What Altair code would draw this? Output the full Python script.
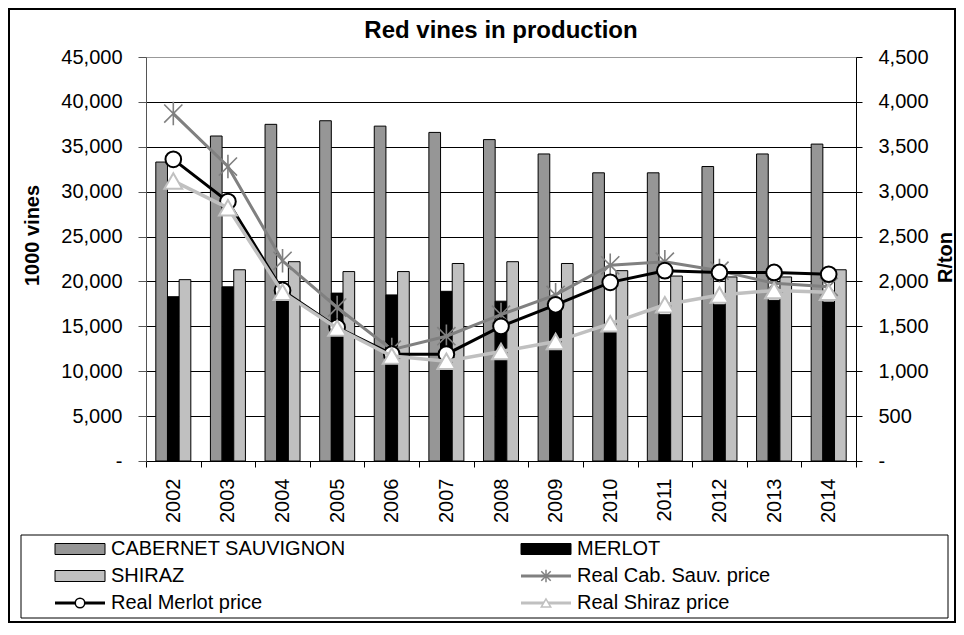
import altair as alt
import pandas as pd

FONT = "Liberation Sans"

years = ["2002", "2003", "2004", "2005", "2006", "2007", "2008",
         "2009", "2010", "2011", "2012", "2013", "2014"]

bar_series = ["CABERNET SAUVIGNON", "MERLOT", "SHIRAZ"]
price_series = ["Real Cab. Sauv. price", "Real Merlot price", "Real Shiraz price"]

cab_vines = [33300, 36200, 37500, 37900, 37300, 36600, 35800, 34200, 32100, 32100, 32800, 34200, 35300]
merlot_vines = [18300, 19400, 18000, 18700, 18500, 18900, 17800, 17000, 14500, 16300, 17400, 17900, 17700]
shiraz_vines = [20200, 21300, 22200, 21100, 21100, 22000, 22200, 22000, 21200, 20600, 20500, 20500, 21300]

cab_price = [3870, 3280, 2230, 1710, 1240, 1390, 1630, 1850, 2180, 2220, 2120, 1980, 1940]
merlot_price = [3360, 2890, 1900, 1490, 1190, 1190, 1500, 1740, 1990, 2120, 2100, 2100, 2080]
shiraz_price = [3120, 2820, 1880, 1480, 1170, 1110, 1220, 1330, 1530, 1740, 1850, 1900, 1880]

left_ticks = list(range(0, 45001, 5000))
right_ticks = list(range(0, 4501, 500))

chart_title = "Red vines in production"
left_title = "1000 vines"
right_title = "R/ton"

legend_labels = ["CABERNET SAUVIGNON", "MERLOT", "SHIRAZ",
                 "Real Cab. Sauv. price", "Real Merlot price", "Real Shiraz price"]
legend_cols = [0, 1, 0, 1, 0, 1]
legend_rows = [0, 0, 1, 1, 2, 2]
legend_kinds = ["bar", "bar", "bar", "line", "line", "line"]

bar_colors = ["#969696", "#000000", "#C0C0C0"]
price_colors = ["#808080", "#000000", "#C0C0C0"]

STAR = "M-1,-1L1,1M1,-1L-1,1M0,-1.3L0,1.3"
RECT = "M-1,-0.22H1V0.22H-1Z"
HLINE = "M-1,0H1"

bars_df = pd.DataFrame({
    "year": years * 3,
    "series": [s for s in bar_series for _ in years],
    "vines": cab_vines + merlot_vines + shiraz_vines,
})
price_df = pd.DataFrame({
    "year": years * 3,
    "series": [s for s in price_series for _ in years],
    "price": cab_price + merlot_price + shiraz_price,
})
legend_df = pd.DataFrame({
    "label": legend_labels, "col": legend_cols,
    "row": legend_rows, "kind": legend_kinds,
})

label_expr = "datum.value == 0 ? '-' : format(datum.value, ',')"

x_enc = alt.X(
    "year:O", sort=years,
    scale=alt.Scale(type="band", paddingInner=0, paddingOuter=0),
    axis=alt.Axis(title=None, labelAngle=-90, tickBand="extent", tickSize=6,
                  tickColor="black", domainColor="black", labelPadding=11,
                  grid=False),
)

bars = alt.Chart(bars_df).mark_bar(stroke="black", strokeWidth=1).encode(
    x=x_enc,
    xOffset=alt.XOffset("series:N", sort=bar_series,
                        scale=alt.Scale(paddingOuter=0.84, paddingInner=0)),
    y=alt.Y("vines:Q",
            scale=alt.Scale(domain=[0, 45000], nice=False),
            axis=alt.Axis(title=left_title, values=left_ticks, labelExpr=label_expr,
                          grid=True,
                          gridColor=alt.condition("datum.value >= 45000",
                                                  alt.value("#999999"), alt.value("#000000")),
                          tickSize=8, tickColor="#555555", domainColor="#555555",
                          labelPadding=16, titleX=-114, titleY=178,
                          titleBaseline="middle")),
    fill=alt.Fill("series:N", sort=bar_series,
                  scale=alt.Scale(domain=bar_series, range=bar_colors), legend=None),
)

price_y = alt.Y(
    "price:Q",
    scale=alt.Scale(domain=[0, 4500], nice=False),
    axis=alt.Axis(orient="right", title=right_title, values=right_ticks, labelExpr=label_expr,
                  grid=False, tickSize=6, tickColor="black", domainColor="black",
                  labelPadding=16, titleX=89, titleY=200, titleAngle=270,
                  titleBaseline="middle"),
)


def price_layers(name, color, width, point_mark):
    base = alt.Chart(price_df).transform_filter(alt.datum.series == name)
    line = base.mark_line(color=color, strokeWidth=width).encode(x=x_enc, y=price_y)
    pts = base.mark_point(**point_mark).encode(x=x_enc, y=price_y)
    return [line, pts]


prices = alt.layer(
    *price_layers(price_series[0], price_colors[0], 3,
                  dict(shape=STAR, size=330, filled=False, stroke=price_colors[0],
                       strokeWidth=1.6, opacity=1)),
    *price_layers(price_series[1], price_colors[1], 3,
                  dict(shape="circle", size=246, filled=True, fill="white",
                       stroke="black", strokeWidth=2, opacity=1)),
    *price_layers(price_series[2], price_colors[2], 3.5,
                  dict(shape="triangle-up", size=320, filled=True, fill="white",
                       stroke="#C0C0C0", strokeWidth=2, opacity=1)),
)

main = alt.layer(bars, prices).resolve_scale(y="independent")

leg_x = alt.X("col:Q", scale=alt.Scale(domain=[0, 1], range=[-66, 400]), axis=None)
leg_y = alt.Y("row:Q", scale=alt.Scale(domain=[0, 2], range=[492, 546]), axis=None)
leg_base = alt.Chart(legend_df)

leg_bars = leg_base.transform_filter(alt.datum.kind == "bar").mark_point(
    shape=RECT, size=2500, filled=True, stroke="black", strokeWidth=1, opacity=1
).encode(x=leg_x, y=leg_y,
         fill=alt.Fill("label:N", scale=alt.Scale(domain=bar_series, range=bar_colors),
                       legend=None))

leg_lines = leg_base.transform_filter(alt.datum.kind == "line").mark_point(
    shape=HLINE, size=2500, filled=False, strokeWidth=3, opacity=1
).encode(x=leg_x, y=leg_y,
         stroke=alt.Stroke("label:N", scale=alt.Scale(domain=price_series, range=price_colors),
                           legend=None))

leg_marks = leg_base.transform_filter(alt.datum.kind == "line").mark_point(
    filled=True, fill="white", strokeWidth=1.5, size=90, opacity=1
).encode(x=leg_x, y=leg_y,
         stroke=alt.Stroke("label:N", scale=alt.Scale(domain=price_series, range=price_colors),
                           legend=None),
         shape=alt.Shape("label:N",
                         scale=alt.Scale(domain=price_series,
                                         range=[STAR, "circle", "triangle-up"]),
                         legend=None))

leg_text = leg_base.mark_text(align="left", baseline="middle", dx=31, font=FONT,
                              fontSize=20, color="black").encode(
    x=leg_x, y=leg_y, text="label:N")

legend = alt.layer(leg_bars, leg_lines, leg_marks, leg_text)

blank = alt.Data(values=[{}])
legend_box = alt.Chart(blank).mark_rect(fillOpacity=0, stroke="black", strokeWidth=1).encode(
    x=alt.value(-125), x2=alt.value(802), y=alt.value(478), y2=alt.value(561))
frame_box = alt.Chart(blank).mark_rect(fillOpacity=0, stroke="black", strokeWidth=2).encode(
    x=alt.value(-137), x2=alt.value(809), y=alt.value(-48), y2=alt.value(565))
title_mark = alt.Chart(blank).mark_text(
    text=chart_title, font=FONT, fontSize=24, fontWeight="bold", color="black",
    align="center", baseline="alphabetic"
).encode(x=alt.value(355), y=alt.value(-19))

chart = alt.layer(main, legend, legend_box, frame_box, title_mark).resolve_scale(
    x="independent", y="independent"
).properties(
    width=710, height=404,
    autosize=alt.AutoSizeParams(type="none"),
    padding={"left": 138, "top": 49, "right": 100, "bottom": 162},
).configure(
    font=FONT, background="white"
).configure_view(
    stroke="#999999"
).configure_axis(
    labelFont=FONT, labelFontSize=20, labelColor="black",
    titleFont=FONT, titleFontSize=20, titleFontWeight="bold", titleColor="black",
)

chart.save("out.html", embed_options={"renderer": "svg", "actions": False})
